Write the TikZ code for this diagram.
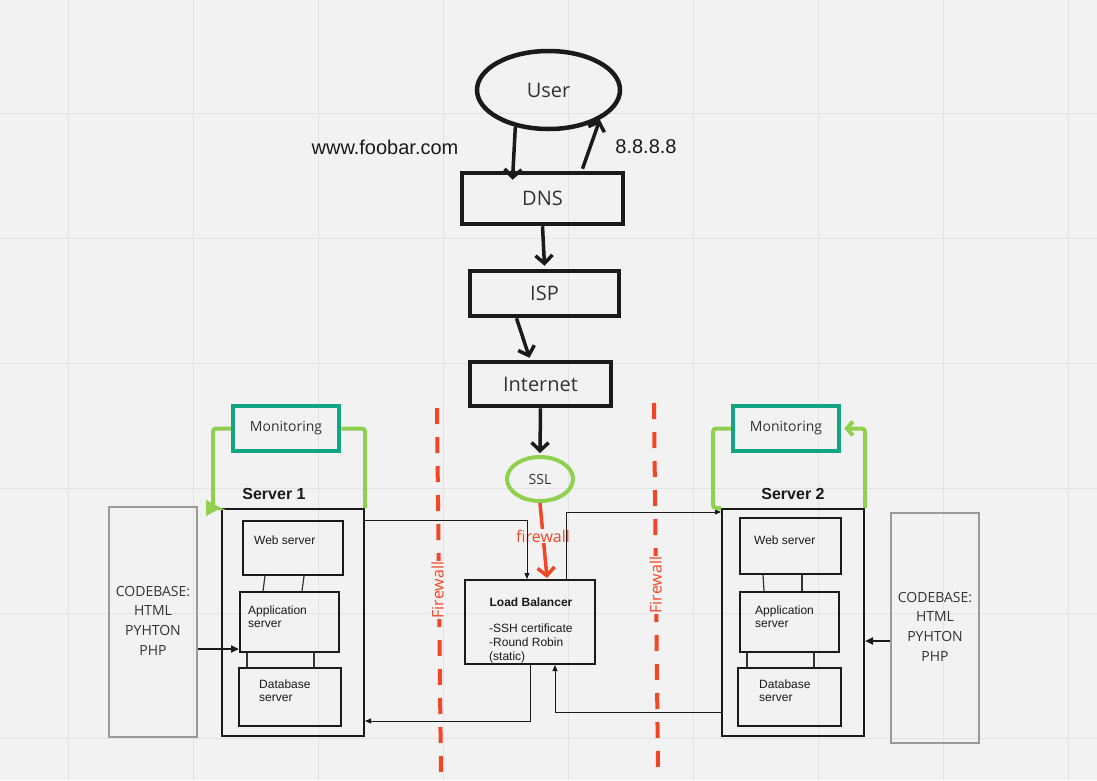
\documentclass[tikz,border=0pt]{standalone}
\usepackage{fontspec}
\setmainfont{Liberation Sans}
\newfontfamily\osans{Open Sans}
\usetikzlibrary{arrows.meta,shapes.geometric}
\definecolor{bg}{HTML}{F2F2F2}
\definecolor{gridc}{HTML}{E3E3E3}
\definecolor{ink}{HTML}{1A1A1A}
\definecolor{txt}{HTML}{333333}
\definecolor{fwred}{HTML}{F24726}
\definecolor{leaf}{HTML}{8FD14F}
\definecolor{tealc}{HTML}{12A584}
\definecolor{cbgray}{HTML}{9A9A9A}
\begin{document}
\begin{tikzpicture}[x=1pt,y=-1pt,
  flowbox/.style={draw=ink, line width=4.5pt, rectangle, inner sep=0pt,
    font=\osans\fontsize{20}{24}\selectfont, text=txt},
  flowarrow/.style={draw=ink, line width=3.5pt, -{Straight Barb[length=8pt,width=17pt]}},
  redarrow/.style={draw=fwred, line width=3.5pt, -{Straight Barb[length=8pt,width=17pt]}},
  monbox/.style={draw=tealc, line width=4.5pt, rectangle, inner sep=0pt,
    minimum width=106, minimum height=45, font=\osans\fontsize{14}{17}\selectfont, text=txt},
  greenline/.style={draw=leaf, line width=4pt, rounded corners=3pt},
  fwline/.style={draw=fwred, line width=4pt, dash pattern=on 16pt off 13pt},
  fwtext/.style={fill=bg, inner sep=1pt, text=fwred, font=\osans\fontsize{16}{19}\selectfont},
  srvbox/.style={draw=ink, line width=2pt, rectangle, inner sep=0pt, minimum width=142, minimum height=227},
  srvlabel/.style={font=\bfseries\fontsize{16}{19}\selectfont, text=ink, inner sep=0pt},
  innerbox/.style={draw=ink, line width=2pt, rectangle, inner sep=0pt},
  innertext/.style={anchor=west, align=left, inner sep=0pt, text=ink, font=\fontsize{12}{13}\selectfont},
  link/.style={draw=txt, line width=1.2pt},
  thinarrow/.style={draw=ink, line width=1pt, -{Triangle[length=6pt,width=5pt]}},
  cbbox/.style={draw=cbgray, line width=1.5pt, rectangle, inner sep=0pt, minimum width=88, minimum height=230},
  cbtext/.style={align=center, inner sep=0pt, text=txt, font=\osans\fontsize{14}{19.7}\selectfont},
  cbarrow/.style={draw=ink, line width=2pt, -{Triangle[length=8pt,width=7pt]}},
  plaintext/.style={inner sep=0pt, text=ink, font=\fontsize{20}{24}\selectfont}
]
% canvas and grid
\fill[bg] (0,0) rectangle (1097,780);
\useasboundingbox (0,0) rectangle (1097,780);
\foreach \gx in {68,193,...,1068} \draw[gridc, line width=1pt] (\gx,0) -- (\gx,780);
\foreach \gy in {113,238,...,738} \draw[gridc, line width=1pt] (0,\gy) -- (1097,\gy);

% request path
\node[flowbox, ellipse, minimum width=143, minimum height=78] (user) at (548.5,90) {User};
\node[flowbox, minimum width=161, minimum height=51] (dns) at (542.5,198.5) {DNS};
\node[flowbox, minimum width=149, minimum height=45] (isp) at (544.5,293.5) {ISP};
\node[flowbox, minimum width=141, minimum height=44] (inet) at (540.5,384) {Internet};
\node[draw=leaf, line width=4pt, ellipse, inner sep=0pt, minimum width=66, minimum height=44,
  text=txt, font=\osans\fontsize{14}{17}\selectfont] (ssl) at (540,479) {SSL};
\node[plaintext] (dom) at (385,147) {www.foobar.com};
\node[plaintext] (ip) at (646,147) {8.8.8.8};

\draw[flowarrow] (user.228) -- ([xshift=-30pt,yshift=-9pt]dns.north);
\draw[flowarrow] ([xshift=40pt,yshift=2pt]dns.north) -- (user.330);
\draw[flowarrow] (dns.south) -- ([yshift=3pt]isp.north);
\draw[flowarrow] ([xshift=-28pt]isp.south) -- ([xshift=-11pt,yshift=2pt]inet.north);
\draw[flowarrow] (inet.south) -- ([yshift=2pt]ssl.north);

% load balancer
\node[draw=ink, line width=2pt, rectangle, inner sep=0pt, minimum width=130, minimum height=84] (lb) at (530,622) {};
\node[inner sep=0pt, text=ink, font=\bfseries\fontsize{12}{14}\selectfont] (lbt) at (531,602) {Load Balancer};
\node[innertext, font=\fontsize{12}{14}\selectfont] (lbd) at (489,643) {-SSH certificate\\-Round Robin\\(static)};

\draw[redarrow] (ssl.south) -- node[pos=0.44, fwtext] (fwlab) {firewall} ([xshift=17pt,yshift=1pt]lb.north);

% firewalls
\draw[fwline] (437,408) -- (441,778);
\node[fwtext, rotate=90] (fw1) at (437.5,590) {Firewall};
\draw[fwline] (654,403) -- (658,772);
\node[fwtext, rotate=90] (fw2) at (655.5,585) {Firewall};

% server 1
\node[srvbox] (s1) at (293,622.5) {};
\node[srvlabel] (s1l) at (274,494) {Server 1};
\node[innerbox, minimum width=100, minimum height=54] (web1) at (293,548) {};
\node[innerbox, minimum width=99, minimum height=60] (app1) at (289.5,622) {};
\node[innerbox, minimum width=102, minimum height=58] (db1) at (290,697) {};
\node[innertext] (web1t) at (254,540) {Web server};
\node[innertext] (app1t) at (248,616.5) {Application\\server};
\node[innertext] (db1t) at (259,690.5) {Database\\server};
\draw[link] ([xshift=-28pt]web1.south) -- ([xshift=-26.5pt]app1.north);
\draw[link] ([xshift=11pt]web1.south) -- ([xshift=12.5pt]app1.north);
\draw[link] ([xshift=-42.5pt]app1.south) -- ([xshift=-43pt]db1.north);
\draw[link] ([xshift=24.5pt]app1.south) -- ([xshift=24pt]db1.north);

% server 2
\node[srvbox] (s2) at (793,622.5) {};
\node[srvlabel] (s2l) at (793,494) {Server 2};
\node[innerbox, minimum width=101, minimum height=56] (web2) at (790.5,546) {};
\node[innerbox, minimum width=99, minimum height=60] (app2) at (789.5,622) {};
\node[innerbox, minimum width=103, minimum height=58] (db2) at (789.5,697) {};
\node[innertext] (web2t) at (754,540) {Web server};
\node[innertext] (app2t) at (755,616.5) {Application\\server};
\node[innertext] (db2t) at (759,690.5) {Database\\server};
\draw[link] ([xshift=-27.5pt]web2.south) -- ([xshift=-25.5pt]app2.north);
\draw[link] ([xshift=11.5pt]web2.south) -- ([xshift=12.5pt]app2.north);
\draw[link] ([xshift=-42.5pt]app2.south) -- ([xshift=-42.5pt]db2.north);
\draw[link] ([xshift=24.5pt]app2.south) -- ([xshift=24.5pt]db2.north);

% traffic between servers and load balancer
\draw[thinarrow] ([yshift=-12pt]s1.north east) -| ([xshift=-3pt]lb.north);
\draw[thinarrow] ([xshift=36pt]lb.north) |- ([yshift=-4pt]s2.north west);
\draw[thinarrow] (lb.south) |- ([yshift=16pt]s1.south east);
\draw[thinarrow] ([yshift=25pt]s2.south west) -| ([xshift=25pt]lb.south);

% codebases
\node[cbbox] (cb1) at (153,622) {};
\node[cbtext] (cb1t) at (153,620.5) {CODEBASE:\\HTML\\PYHTON\\PHP};
\node[cbbox] (cb2) at (935,628) {};
\node[cbtext] (cb2t) at (935,626.5) {CODEBASE:\\HTML\\PYHTON\\PHP};
\draw[cbarrow] ([yshift=-27pt]cb1.east) -- ([yshift=-27pt]app1.west);
\draw[cbarrow] ([yshift=-13pt]cb2.west) -- ([yshift=-18.5pt]s2.east);

% monitoring
\node[monbox] (mon1) at (286,428.5) {Monitoring};
\node[monbox] (mon2) at (786,428.5) {Monitoring};
\coordinate (m1k) at (213,508);
\coordinate (m2k) at (713,508);
\draw[greenline, -{Triangle[length=15pt,width=15pt]}] (mon1.west) -| (m1k) -- (s1.north west);
\draw[greenline] (mon1.east) -| (s1.north east);
\draw[greenline] (mon2.west) -| (m2k) -- (s2.north west);
\draw[greenline, -{Straight Barb[length=6pt,width=14pt]}] (s2.north east) |- ([xshift=3pt]mon2.east);
\end{tikzpicture}
\end{document}
